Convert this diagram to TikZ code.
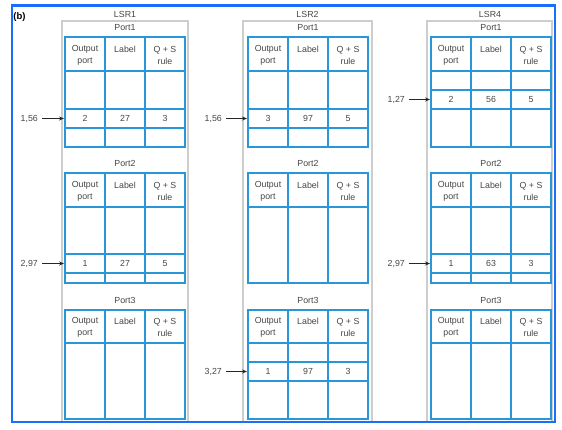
\documentclass[tikz,border=0pt]{standalone}
\usepackage{fontspec}
\setmainfont{Liberation Sans}
\usetikzlibrary{arrows.meta}
\definecolor{frameblue}{RGB}{25,110,250}
\definecolor{tblblue}{RGB}{40,150,215}
\definecolor{boxgrey}{RGB}{205,205,205}
\definecolor{txtgrey}{RGB}{70,70,70}
\tikzset{
  tbl/.style={draw=tblblue, line width=1.3pt},
  greybox/.style={draw=boxgrey, line width=1.5pt},
  bframe/.style={draw=frameblue, line width=2.5pt},
  hdr/.style={text=txtgrey, font=\fontsize{8.8}{12}\selectfont, align=center, inner sep=0pt},
  cell/.style={text=txtgrey, font=\fontsize{8.8}{10}\selectfont, inner sep=0pt},
  ttl/.style={text=txtgrey, font=\fontsize{8.8}{10}\selectfont, inner sep=0pt},
  lbl/.style={text=txtgrey, font=\fontsize{8.8}{10}\selectfont, inner xsep=4pt, inner ysep=0pt, anchor=base east},
  arr/.style={draw=black!85, line width=0.8pt, -{Stealth[length=5pt,width=4pt]}},
}
% #1 x0, #2 ytop, #3 yheader, #4 inner row ys, #5 ybottom
\newcommand{\porttable}[5]{%
  \draw[tbl] (#1,#2) rectangle (#1+120,#5);
  \draw[tbl] (#1+40,#2) -- (#1+40,#5) (#1+80,#2) -- (#1+80,#5);
  \draw[tbl] (#1,#3) -- (#1+120,#3);
  \foreach \yy in {#4} {\draw[tbl] (#1,\yy) -- (#1+120,\yy);}
  \node[hdr] at (#1+20,{(#2+#3)/2+1}) {Output\\port};
  \node[hdr] at (#1+60,{(#2+#3)/2-5}) {Label};
  \node[hdr] at (#1+100,{(#2+#3)/2+1}) {Q + S\\rule};
}
\newcommand{\rowvals}[5]{% #1 x0, #2 y, #3 #4 #5 values
  \node[cell] at (#1+20,#2) {#3};
  \node[cell] at (#1+60,#2) {#4};
  \node[cell] at (#1+100,#2) {#5};
}
\begin{document}
\begin{tikzpicture}[x=1pt,y=-1pt]
\useasboundingbox[fill=white] (0,0) rectangle (562,430);
% grey router boxes
\draw[greybox] (62,21) rectangle (188,422);
\draw[greybox] (243,21) rectangle (372,422);
\draw[greybox] (427,21) rectangle (552,422);
% titles
\node[ttl] (lsr1) at (125,14.5) {LSR1};
\node[ttl] (lsr2) at (307.5,14.5) {LSR2};
\node[ttl] (lsr4) at (490,14.5) {LSR4};
\foreach \xc/\nm in {125/a,308/b,491/c} {
  \node[ttl] (p1\nm) at (\xc,28) {Port1};
  \node[ttl] (p2\nm) at (\xc,163) {Port2};
  \node[ttl] (p3\nm) at (\xc,300) {Port3};
}
% LSR1 tables
\porttable{65}{37}{71}{109,128}{147}
\porttable{65}{173}{207}{254,273}{283}
\porttable{65}{310}{343}{343}{419}
% LSR2 tables
\porttable{248}{37}{71}{109,128}{147}
\porttable{248}{173}{207}{207}{283}
\porttable{248}{310}{343}{362,381}{419}
% LSR4 tables
\porttable{431}{37}{71}{90,109}{147}
\porttable{431}{173}{207}{254,273}{283}
\porttable{431}{310}{343}{343}{419}
% values
\rowvals{65}{118.5}{2}{27}{3}
\rowvals{248}{118.5}{3}{97}{5}
\rowvals{431}{99.5}{2}{56}{5}
\rowvals{65}{263.5}{1}{27}{5}
\rowvals{431}{263.5}{1}{63}{3}
\rowvals{248}{371.5}{1}{97}{3}
% incoming labels and arrows
\node[lbl] (in1) at (42,121.7) {1,56};   \coordinate (t1) at (64,118.5);
\node[lbl] (in2) at (226,121.7) {1,56};  \coordinate (t2) at (247,118.5);
\node[lbl] (in3) at (409,102.7) {1,27};  \coordinate (t3) at (430,99.5);
\node[lbl] (in4) at (42,266.7) {2,97};   \coordinate (t4) at (64,263.5);
\node[lbl] (in5) at (409,266.7) {2,97};  \coordinate (t5) at (430,263.5);
\node[lbl] (in6) at (226,374.7) {3,27};  \coordinate (t6) at (247,371.5);
\draw[arr] (in1.east |- t1) -- (t1);
\draw[arr] (in2.east |- t2) -- (t2);
\draw[arr] (in3.east |- t3) -- (t3);
\draw[arr] (in4.east |- t4) -- (t4);
\draw[arr] (in5.east |- t5) -- (t5);
\draw[arr] (in6.east |- t6) -- (t6);
% panel tag and frame
\node[font=\bfseries\fontsize{9.5}{10}\selectfont, inner sep=0pt] (tag) at (19.5,17) {(b)};
\draw[bframe] (12,5.5) rectangle (555,422);
\end{tikzpicture}
\end{document}
